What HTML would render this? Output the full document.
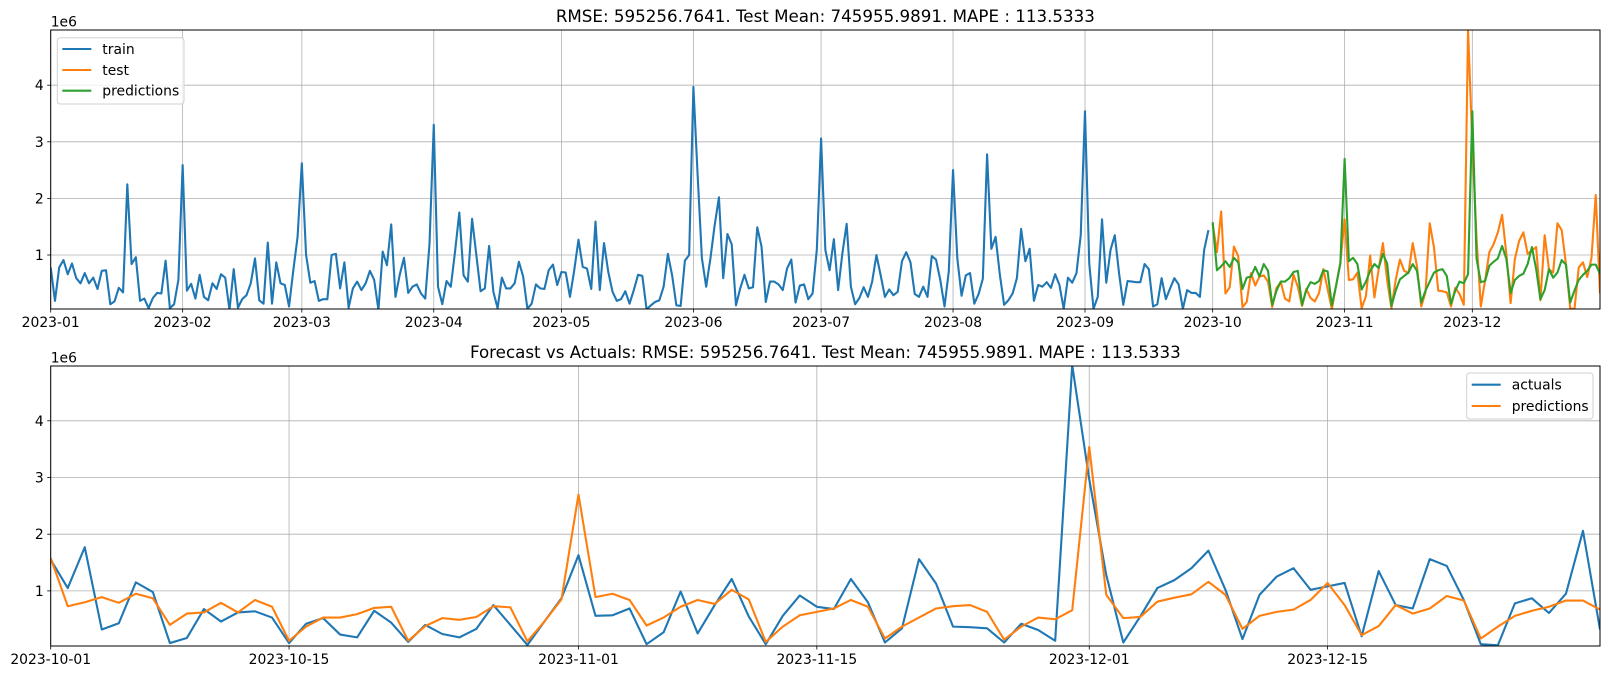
<!DOCTYPE html>
<html><head><meta charset="utf-8"><style>
html,body{margin:0;padding:0;background:#fff;}
svg{display:block;font-family:"DejaVu Sans","Liberation Sans",sans-serif;}
</style></head><body>
<svg id="fig" width="1610" height="680" viewBox="0 0 1610 680" xmlns="http://www.w3.org/2000/svg"></svg>
<script>
const trainValues=[0.78,0.19,0.78,0.91,0.66,0.85,0.59,0.50,0.68,0.50,
0.60,0.40,0.72,0.73,0.13,0.18,0.42,0.34,2.25,0.84,
0.96,0.19,0.23,0.06,0.24,0.33,0.32,0.90,0.06,0.13,
0.56,2.59,0.37,0.49,0.23,0.65,0.26,0.20,0.50,0.40,
0.66,0.60,0.03,0.75,0.07,0.22,0.29,0.50,0.94,0.20,
0.14,1.22,0.14,0.87,0.50,0.47,0.09,0.73,1.32,2.62,
1.00,0.51,0.54,0.19,0.22,0.22,1.00,1.02,0.41,
0.87,0.07,0.41,0.53,0.38,0.50,0.72,0.56,0.03,1.06,
0.82,1.54,0.26,0.65,0.95,0.33,0.44,0.48,0.32,0.23,
1.20,3.30,0.44,0.13,0.54,0.44,1.06,1.75,0.64,0.53,
1.64,1.00,0.36,0.41,1.16,0.35,0.06,0.60,0.41,0.41,
0.50,0.88,0.62,0.05,0.14,0.48,0.41,0.40,0.73,0.83,
0.47,0.70,0.69,0.26,0.73,1.27,0.79,0.76,0.40,1.59,
0.38,1.21,0.70,0.35,0.19,0.22,0.36,0.14,
0.38,0.65,0.63,0.04,0.11,0.17,0.20,0.44,1.02,0.64,
0.11,0.10,0.90,1.00,3.97,2.40,0.94,0.44,0.94,1.53,
2.02,0.59,1.37,1.19,0.11,0.41,0.65,0.41,0.43,1.49,
1.15,0.17,0.53,0.53,0.48,0.38,0.76,0.92,0.16,0.46,
0.48,0.22,0.32,1.10,3.06,1.09,0.73,1.28,0.38,1.03,
1.55,0.44,0.13,0.24,0.43,0.26,0.53,1.00,0.64,0.26,
0.39,0.29,0.35,0.89,1.05,
0.87,0.31,0.26,0.44,0.26,0.98,0.92,0.56,0.09,0.71,
2.50,0.94,0.28,0.64,0.68,0.14,0.31,0.58,2.78,1.11,
1.32,0.65,0.12,0.20,0.32,0.59,1.46,0.89,1.11,0.19,
0.47,0.44,0.52,0.42,0.66,0.47,0.05,0.60,0.51,0.68,
1.35,3.54,0.85,0.05,0.26,1.63,0.51,1.09,1.35,0.68,
0.12,0.54,0.53,0.52,0.52,0.84,0.75,0.09,0.13,0.59,
0.22,0.41,0.59,0.48,0.05,0.38,0.33,0.33,0.26,1.09,1.44];
const testValues=[1.55,1.05,1.77,0.32,0.43,1.15,0.98,0.08,0.17,0.68,
0.46,0.62,0.64,0.53,0.08,0.42,0.52,0.23,0.18,0.65,
0.44,0.10,0.40,0.24,0.18,0.33,0.75,0.40,0.045,0.46,
0.87,1.63,0.56,0.57,0.69,0.06,0.27,0.99,0.25,0.75,
1.21,0.55,0.06,0.56,0.92,0.72,0.68,1.21,0.80,0.09,
0.34,1.56,1.13,0.37,0.36,0.34,0.09,0.42,0.31,0.12,
4.98,2.97,1.28,0.09,0.55,1.05,1.19,1.40,1.71,1.02,
0.15,0.93,1.25,1.40,1.02,1.08,1.14,0.20,1.35,0.75,
0.69,1.56,1.44,0.84,0.06,0.04,0.78,0.87,0.61,0.95,
2.06,0.32];
const predValues=[1.58,0.73,0.80,0.89,0.79,0.95,0.87,0.40,0.60,0.62,
0.79,0.62,0.84,0.72,0.12,0.37,0.53,0.53,0.59,0.70,
0.72,0.12,0.38,0.52,0.49,0.54,0.73,0.71,0.11,0.46,
0.85,2.70,0.89,0.95,0.84,0.39,0.53,0.72,0.84,0.77,
1.02,0.85,0.10,0.37,0.57,0.63,0.69,0.84,0.72,0.16,
0.37,0.53,0.69,0.73,0.75,0.63,0.14,0.37,0.53,0.50,
0.66,3.54,0.93,0.52,0.54,0.81,0.88,0.94,1.16,0.93,
0.33,0.56,0.63,0.67,0.84,1.14,0.75,0.22,0.38,0.75,
0.60,0.69,0.91,0.83,0.16,0.37,0.56,0.65,0.72,0.83,
0.83,0.67];
const topTickDays=[0,31,59,90,120,151,181,212,243,273,304,334];
const topTickLabels=["2023-01","2023-02","2023-03","2023-04","2023-05","2023-06","2023-07","2023-08","2023-09","2023-10","2023-11","2023-12"];
const botTickDays=[0,14,31,45,61,75];
const botTickLabels=["2023-10-01","2023-10-15","2023-11-01","2023-11-15","2023-12-01","2023-12-15"];
const yTicks=[1,2,3,4];
const yTickLabels=["1","2","3","4"];

const NS="http://www.w3.org/2000/svg";
const fig=document.getElementById('fig');
function mk(tag,attrs,parent){const e=document.createElementNS(NS,tag);for(const k in attrs)e.setAttribute(k,attrs[k]);(parent||fig).appendChild(e);return e;}

const L=50.7,R=1600;
const topAx={t:30,b:309,x:d=>L+(R-L)*d/364,y:v=>311.6-56.6*v};
const botAx={t:366,b:646,x:d=>L+(R-L)*d/91,y:v=>647.6-56.7*v};

function axes(ax,name,tickDays,tickLabels,title,clipId){
  const g=mk('g',{});
  
  
  const cp=mk('clipPath',{id:clipId},g);mk('rect',{x:L,y:ax.t,width:R-L,height:ax.b-ax.t},cp);
  // grid
  tickDays.forEach((d,i)=>{const x=ax.x(d);
    const gl=mk('line',{x1:x,x2:x,y1:ax.t,y2:ax.b,stroke:'#b0b0b0','stroke-width':0.8},g);
    
    
    mk('line',{x1:x,x2:x,y1:ax.b,y2:ax.b+3.5,stroke:'#000','stroke-width':0.8},g);
    const t=mk('text',{x:x,y:ax.b+18,'text-anchor':'middle','font-size':13.9,fill:'#000'},g);
    t.textContent=tickLabels[i];
    
    
  });
  yTicks.forEach((v,i)=>{const y=ax.y(v);
    const gl=mk('line',{x1:L,x2:R,y1:y,y2:y,stroke:'#b0b0b0','stroke-width':0.8},g);
    
    
    mk('line',{x1:L-3.5,x2:L,y1:y,y2:y,stroke:'#000','stroke-width':0.8},g);
    const t=mk('text',{x:L-7,y:y+5,'text-anchor':'end','font-size':13.9,fill:'#000'},g);
    t.textContent=yTickLabels[i];
    
    
  });
  const off=mk('text',{x:L,y:ax.t-3.5,'font-size':13.9,fill:'#000'},g);
  off.textContent='1e6';
  
  
  const tt=mk('text',{x:(L+R)/2,y:ax.t-8,'text-anchor':'middle','font-size':16.7,fill:'#000'},g);
  tt.textContent=title;
  
  
  return g;
}
function series(ax,g,vals,offset,color,name,clipId){
  const pts=vals.map((v,i)=>ax.x(i+offset).toFixed(2)+','+ax.y(v).toFixed(2)).join(' ');
  const p=mk('polyline',{points:pts,fill:'none',stroke:color,'stroke-width':2.1,'stroke-linejoin':'round','clip-path':'url(#'+clipId+')'},g);
  
  
}
function frame(ax,g){
  const r=mk('rect',{x:L,y:ax.t,width:R-L,height:ax.b-ax.t,fill:'none',stroke:'#000','stroke-width':1},g);
  
  
}
function legend(g,x,y,w,h,entries,rowYs){
  const lg=mk('g',{},g);
  
  
  mk('rect',{x:x,y:y,width:w,height:h,rx:3,fill:'#fff','fill-opacity':0.8,stroke:'#d0d0d0','stroke-width':1},lg);
  entries.forEach((e,i)=>{
    const ln=mk('line',{x1:x+5,x2:x+34,y1:rowYs[i],y2:rowYs[i],stroke:e[1],'stroke-width':2.1},lg);
    
    
    const t=mk('text',{x:x+45,y:rowYs[i]+5,'font-size':13.9,fill:'#000'},lg);
    t.textContent=e[0];
    
    
  });
}

const g1=axes(topAx,'top-chart',topTickDays,topTickLabels,'RMSE: 595256.7641. Test Mean: 745955.9891. MAPE : 113.5333','clipTop');
series(topAx,g1,trainValues,0,'#1f77b4','train-line','clipTop');
series(topAx,g1,testValues,trainValues.length,'#ff7f0e','test-line','clipTop');
series(topAx,g1,predValues,trainValues.length,'#2ca02c','predictions-line','clipTop');
frame(topAx,g1);
legend(g1,57.3,37.7,126.7,66.3,[['train','#1f77b4'],['test','#ff7f0e'],['predictions','#2ca02c']],[49,70,90.7]);

const g2=axes(botAx,'bottom-chart',botTickDays,botTickLabels,'Forecast vs Actuals: RMSE: 595256.7641. Test Mean: 745955.9891. MAPE : 113.5333','clipBot');
series(botAx,g2,testValues,0,'#1f77b4','actuals-line','clipBot');
series(botAx,g2,predValues,0,'#ff7f0e','predictions-line','clipBot');
frame(botAx,g2);
legend(g2,1466.7,373,126.3,46,[['actuals','#1f77b4'],['predictions','#ff7f0e']],[384.7,406]);
</script>
</body></html>
